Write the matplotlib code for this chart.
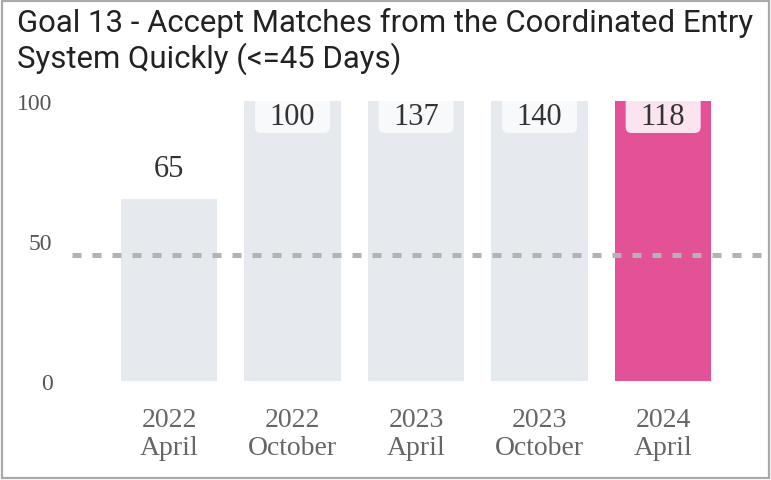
import numpy as np
import matplotlib.pyplot as plt
from matplotlib.patches import FancyBboxPatch, Rectangle

# chart data
years = ['2022', '2022', '2023', '2023', '2024']
months = ['April', 'October', 'April', 'October', 'April']
values = [65, 100, 137, 140, 118]
target = 45
highlight = 4  # latest period

title_lines = ['Goal 13 - Accept Matches from the Coordinated Entry',
               'System Quickly (<=45 Days)']

GREY = '#e6e9ed'
PINK = '#e35297'

W, H = 771, 481
fig = plt.figure(figsize=(W / 100, H / 100), dpi=100)

# thin grey frame round the whole card
fig.patches.append(Rectangle((2 / W, 2 / H), 1 - 4 / W, 1 - 4 / H,
                             transform=fig.transFigure, fill=False,
                             edgecolor='#aaaaaa', linewidth=1.6))

fig.text(17 / W, 1 - 32 / H, title_lines[0], fontsize=22.4, color='#222222',
         family='Roboto', va='baseline', ha='left')
fig.text(17 / W, 1 - 68 / H, title_lines[1], fontsize=22.4, color='#222222',
         family='Roboto', va='baseline', ha='left')

left, right, bottom, top = 72, 762, 382, 102
ax = fig.add_axes([left / W, 1 - bottom / H, (right - left) / W, (bottom - top) / H])

x = np.arange(len(values))
colors = [PINK if i == highlight else GREY for i in x]
bar_w = 0.78
ax.bar(x, values, width=bar_w, color=colors, zorder=1)

ax.set_xlim(-0.785, 4.80)
ax.set_ylim(0, 100)

# target line
ax.axhline(target, color='#b3b3b3', linewidth=3.6, dashes=(1.8, 2.2), zorder=3)

# pixels per data unit, for round corners on the label boxes
px_x = (right - left) / (4.80 + 0.785)
px_y = (bottom - top) / 100.0
serif = 'Liberation Serif'

for i, v in zip(x, values):
    if v >= 100:
        bw = 75 / px_x
        y0 = 100 - 32 / px_y
        fc = '#fbe4ef' if i == highlight else '#f8f9fa'
        box = FancyBboxPatch((i - bw / 2, y0), bw, 40 / px_y,
                             boxstyle='round,pad=0,rounding_size=%f' % (6 / px_x),
                             mutation_aspect=px_x / px_y,
                             facecolor=fc, edgecolor='none', zorder=4)
        ax.add_patch(box)
        ax.text(i, 100 - 16 / px_y, str(v), ha='center', va='center',
                fontsize=22, family=serif, color='#333333', zorder=5)
    else:
        ax.text(i, v + 11, str(v), ha='center', va='center',
                fontsize=22, family=serif, color='#333333', zorder=5)

ax.set_yticks([0, 50, 100])
ax.set_yticklabels(['0', '50', '100'], family=serif, fontsize=17, color='#555555')
ax.set_xticks(x)
ax.set_xticklabels([f'{y}\n{m}' for y, m in zip(years, months)], family=serif,
                   fontsize=20, color='#666666', linespacing=1.15)
ax.tick_params(axis='y', length=0, pad=14)
ax.tick_params(axis='x', length=0, pad=19)
for s in ax.spines.values():
    s.set_visible(False)

fig.savefig('out.png', dpi=100)
